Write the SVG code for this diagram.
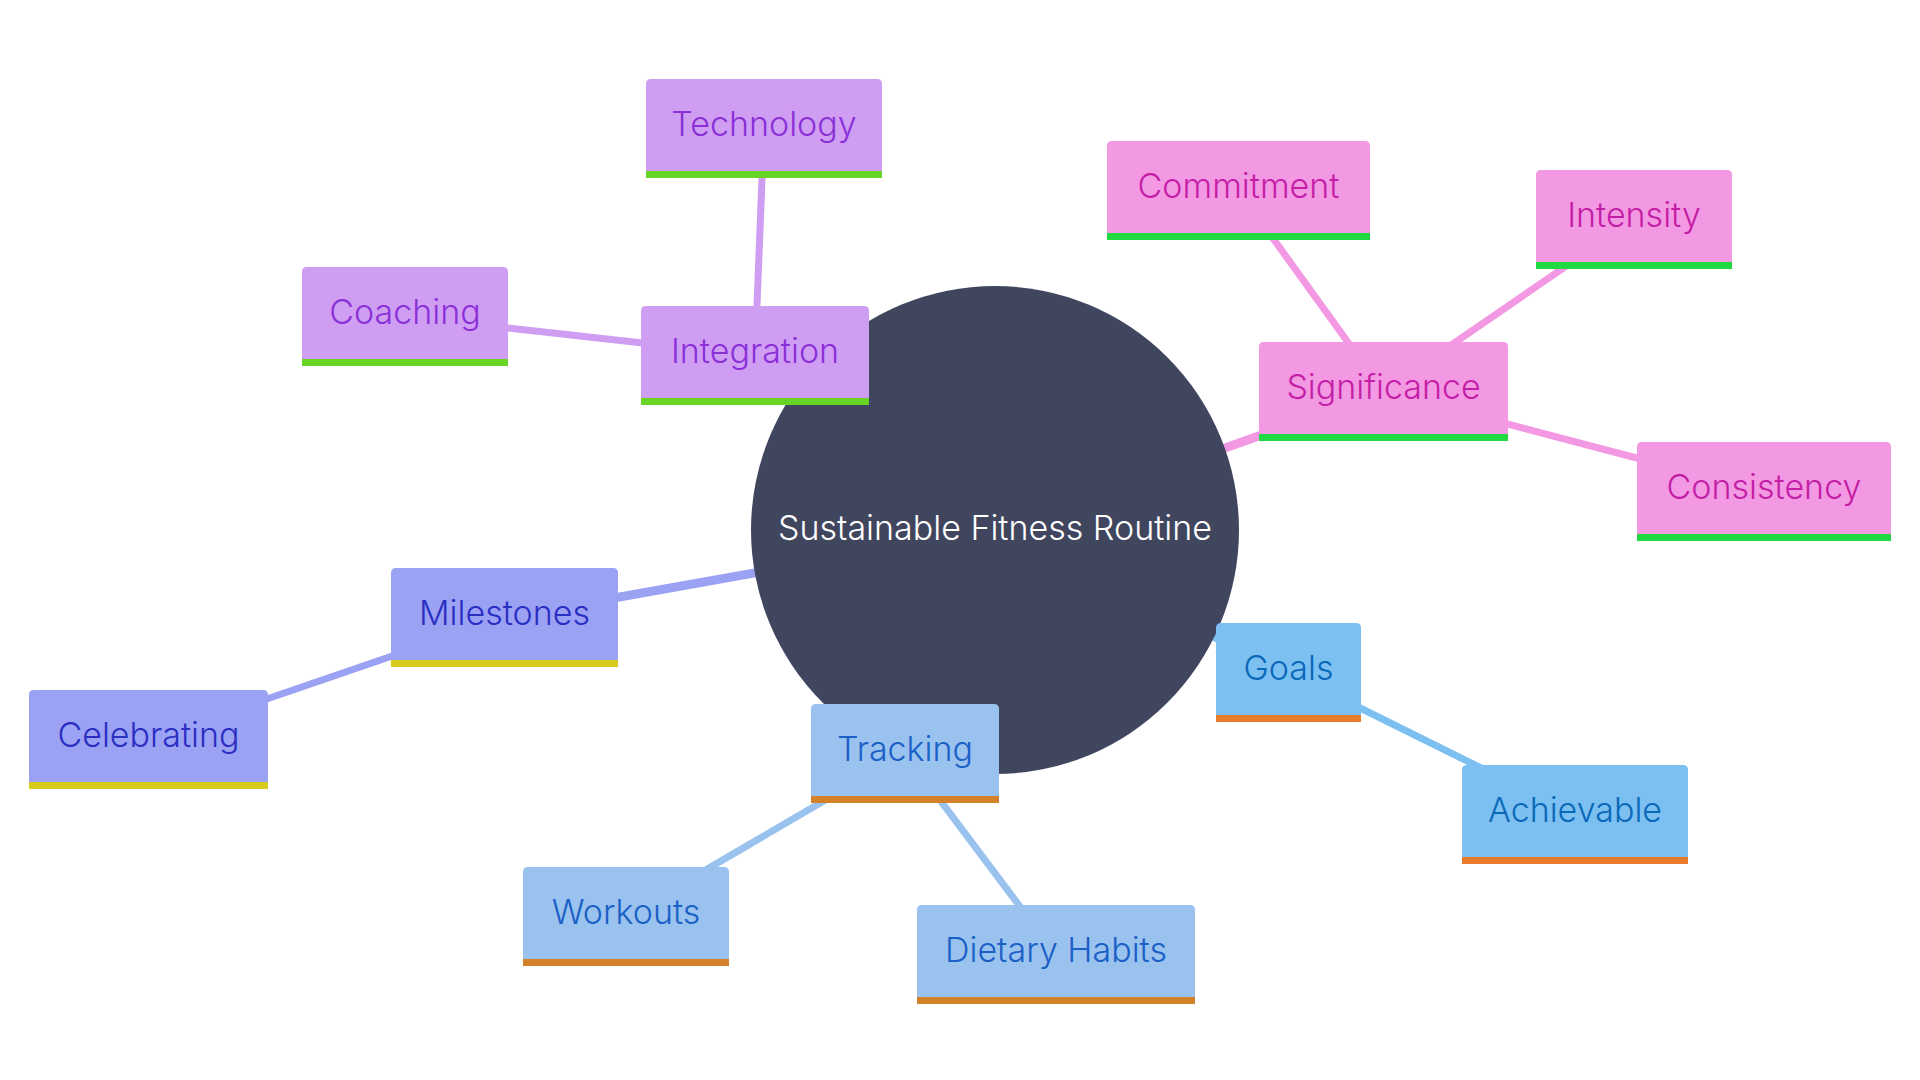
<svg xmlns="http://www.w3.org/2000/svg" width="1920" height="1080" viewBox="0 0 1920 1080">
<style>
text{font-family:Inter,"Noto Sans","Liberation Sans",sans-serif;font-size:34px;font-weight:300;text-anchor:middle}
.e1{stroke-width:9;stroke-linecap:round;fill:none}
.e2{stroke-width:7;stroke-linecap:round;fill:none}
.pu .b{fill:#CF9EF2}.pu text{fill:#8B2FD8}.pu .bar{fill:#68D423}
.pk .b{fill:#F398E3}.pk text{fill:#C41EA6}.pk .bar{fill:#20D840}
.vi .b{fill:#9BA1F3}.vi text{fill:#2A2EC3}.vi .bar{fill:#D7CC1D}
.bl .b{fill:#7CC0F1}.bl text{fill:#0A68B9}.bl .bar{fill:#E87C2C}
.lb .b{fill:#9AC2EE}.lb text{fill:#1A60C6}.lb .bar{fill:#D3822A}
.spu{stroke:#CF9EF2}.spk{stroke:#F398E3}.svi{stroke:#9BA1F3}.sbl{stroke:#7CC0F1}.slb{stroke:#9AC2EE}
</style>
<rect width="1920" height="1080" fill="#ffffff"/>
<g id="connectors">
<line class="e1 spu" x1="995" y1="530" x2="755" y2="355.5"/>
<line class="e2 spu" x1="755" y1="355.5" x2="764" y2="128.5"/>
<line class="e2 spu" x1="755" y1="355.5" x2="405" y2="316.5"/>
<line class="e1 spk" x1="995" y1="530" x2="1383.5" y2="391.5"/>
<line class="e2 spk" x1="1383.5" y1="391.5" x2="1238.5" y2="190.5"/>
<line class="e2 spk" x1="1383.5" y1="391.5" x2="1634" y2="219.5"/>
<line class="e2 spk" x1="1383.5" y1="391.5" x2="1764" y2="491.5"/>
<line class="e1 svi" x1="995" y1="530" x2="504.5" y2="617.5"/>
<line class="e2 svi" x1="504.5" y1="617.5" x2="148.5" y2="739.5"/>
<line class="e1 sbl" x1="995" y1="530" x2="1288.5" y2="672.5"/>
<line class="e2 sbl" x1="1288.5" y1="672.5" x2="1575" y2="814.5"/>
<line class="e1 slb" x1="995" y1="530" x2="905" y2="753.5"/>
<line class="e2 slb" x1="905" y1="753.5" x2="626" y2="916.5"/>
<line class="e2 slb" x1="905" y1="753.5" x2="1056" y2="954.5"/>
</g>
<g id="root">
<circle cx="995" cy="530" r="244" fill="#41465F"/>
<text x="995" y="540" fill="#ffffff">Sustainable Fitness Routine</text>
</g>
<g id="integration" class="pu" transform="translate(641,306)">
<path class="b" d="M0,99 V5 Q0,0 5,0 H223 Q228,0 228,5 V99 Z"/><rect class="bar" x="0" y="92" width="228" height="7"/>
<text x="114" y="57">Integration</text></g>
<g id="technology" class="pu" transform="translate(646,79)">
<path class="b" d="M0,99 V5 Q0,0 5,0 H231 Q236,0 236,5 V99 Z"/><rect class="bar" x="0" y="92" width="236" height="7"/>
<text x="118" y="57">Technology</text></g>
<g id="coaching" class="pu" transform="translate(302,267)">
<path class="b" d="M0,99 V5 Q0,0 5,0 H201 Q206,0 206,5 V99 Z"/><rect class="bar" x="0" y="92" width="206" height="7"/>
<text x="103" y="57">Coaching</text></g>
<g id="significance" class="pk" transform="translate(1259,342)">
<path class="b" d="M0,99 V5 Q0,0 5,0 H244 Q249,0 249,5 V99 Z"/><rect class="bar" x="0" y="92" width="249" height="7"/>
<text x="124.5" y="57">Significance</text></g>
<g id="commitment" class="pk" transform="translate(1107,141)">
<path class="b" d="M0,99 V5 Q0,0 5,0 H258 Q263,0 263,5 V99 Z"/><rect class="bar" x="0" y="92" width="263" height="7"/>
<text x="131.5" y="57">Commitment</text></g>
<g id="intensity" class="pk" transform="translate(1536,170)">
<path class="b" d="M0,99 V5 Q0,0 5,0 H191 Q196,0 196,5 V99 Z"/><rect class="bar" x="0" y="92" width="196" height="7"/>
<text x="98" y="57">Intensity</text></g>
<g id="consistency" class="pk" transform="translate(1637,442)">
<path class="b" d="M0,99 V5 Q0,0 5,0 H249 Q254,0 254,5 V99 Z"/><rect class="bar" x="0" y="92" width="254" height="7"/>
<text x="127" y="57">Consistency</text></g>
<g id="milestones" class="vi" transform="translate(391,568)">
<path class="b" d="M0,99 V5 Q0,0 5,0 H222 Q227,0 227,5 V99 Z"/><rect class="bar" x="0" y="92" width="227" height="7"/>
<text x="113.5" y="57">Milestones</text></g>
<g id="celebrating" class="vi" transform="translate(29,690)">
<path class="b" d="M0,99 V5 Q0,0 5,0 H234 Q239,0 239,5 V99 Z"/><rect class="bar" x="0" y="92" width="239" height="7"/>
<text x="119.5" y="57">Celebrating</text></g>
<g id="goals" class="bl" transform="translate(1216,623)">
<path class="b" d="M0,99 V5 Q0,0 5,0 H140 Q145,0 145,5 V99 Z"/><rect class="bar" x="0" y="92" width="145" height="7"/>
<text x="72.5" y="57">Goals</text></g>
<g id="achievable" class="bl" transform="translate(1462,765)">
<path class="b" d="M0,99 V5 Q0,0 5,0 H221 Q226,0 226,5 V99 Z"/><rect class="bar" x="0" y="92" width="226" height="7"/>
<text x="113" y="57">Achievable</text></g>
<g id="tracking" class="lb" transform="translate(811,704)">
<path class="b" d="M0,99 V5 Q0,0 5,0 H183 Q188,0 188,5 V99 Z"/><rect class="bar" x="0" y="92" width="188" height="7"/>
<text x="94" y="57">Tracking</text></g>
<g id="workouts" class="lb" transform="translate(523,867)">
<path class="b" d="M0,99 V5 Q0,0 5,0 H201 Q206,0 206,5 V99 Z"/><rect class="bar" x="0" y="92" width="206" height="7"/>
<text x="103" y="57">Workouts</text></g>
<g id="dietary-habits" class="lb" transform="translate(917,905)">
<path class="b" d="M0,99 V5 Q0,0 5,0 H273 Q278,0 278,5 V99 Z"/><rect class="bar" x="0" y="92" width="278" height="7"/>
<text x="139" y="57">Dietary Habits</text></g>
</svg>
